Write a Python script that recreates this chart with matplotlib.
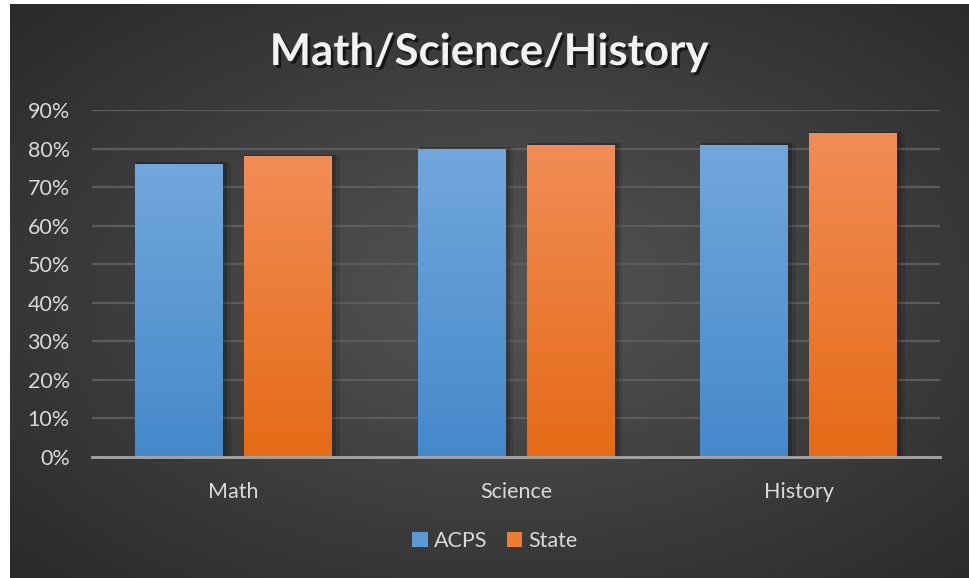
import numpy as np
import matplotlib
matplotlib.use("Agg")
import matplotlib.pyplot as plt
import matplotlib.patheffects as pe
from matplotlib.ticker import PercentFormatter
from matplotlib.patches import Rectangle

categories = ["Math", "Science", "History"]
acps = [0.76, 0.80, 0.81]
state = [0.78, 0.81, 0.84]
series_names = ["ACPS", "State"]
yticks = [0, 0.1, 0.2, 0.3, 0.4, 0.5, 0.6, 0.7, 0.8, 0.9]

plt.rcParams['font.family'] = ['Lato', 'DejaVu Sans']

W, H = 969, 578
fig = plt.figure(figsize=(W / 100, H / 100), dpi=100, facecolor="white")

# background radial gradient
bg = fig.add_axes([10 / W, 0, 1 - 10 / W, 1 - 4 / H])
bg.set_axis_off()
yy, xx = np.mgrid[0:1:300j, 0:1:500j]
r = np.sqrt(((xx - 0.52) / 0.75) ** 2 + ((yy - 0.5) / 0.75) ** 2)
r = np.clip(r / 0.95, 0, 1)
c0 = np.array([0x55, 0x55, 0x55]) / 255
c1 = np.array([0x2a, 0x2a, 0x2a]) / 255
img = c0[None, None, :] * (1 - r[..., None]) + c1[None, None, :] * r[..., None]
bg.imshow(img, aspect="auto", extent=[0, 1, 0, 1], origin="lower")
bg.set_xlim(0, 1)
bg.set_ylim(0, 1)

ax = fig.add_axes([92 / W, 1 - 457 / H, (940 - 92) / W, (457 - 110) / H])
ax.patch.set_alpha(0)
ax.set_xlim(-0.5, len(categories) - 0.5)
ax.set_ylim(0, 0.9)

width = 0.31
offset = 0.193
x = np.arange(len(categories))


def grad_bars(xpos, vals, top_c, bot_c):
    grad = np.linspace(0, 1, 256)[:, None]
    tc = np.array(matplotlib.colors.to_rgb(top_c))
    bc = np.array(matplotlib.colors.to_rgb(bot_c))
    for xi, v in zip(xpos, vals):
        # shadow
        for k, a in [(0.012, 0.18), (0.022, 0.10)]:
            ax.add_patch(Rectangle((xi - width / 2 + k * 0.3, 0), width + k, v + 0.004,
                                   facecolor="black", alpha=a, edgecolor="none", zorder=2))
        bar = ax.bar(xi, v, width, color="none", zorder=3)[0]
        cols = bc[None, :] * (1 - grad) + tc[None, :] * grad
        im = ax.imshow(cols[:, None, :], aspect="auto", origin="lower",
                       extent=[xi - width / 2, xi + width / 2, 0, v], zorder=3)
        im.set_clip_path(bar)


grad_bars(x - offset, acps, "#72a7dc", "#4589cb")
grad_bars(x + offset, state, "#f28c56", "#e56b16")
ax.set_xlim(-0.5, len(categories) - 0.5)
ax.set_ylim(0, 0.9)
ax.set_aspect("auto")

ax.set_yticks(yticks)
ax.yaxis.set_major_formatter(PercentFormatter(1.0, decimals=0))
ax.set_xticks(x)
ax.set_xticklabels(categories)
ax.grid(axis="y", color="#5c5c5c", linewidth=1.6, zorder=0)
ax.set_axisbelow(True)
for s in ["top", "right", "left"]:
    ax.spines[s].set_visible(False)
ax.spines["bottom"].set_color("#a6a6a6")
ax.spines["bottom"].set_linewidth(2)
ax.spines["bottom"].set_zorder(4)
ax.tick_params(axis="both", length=0, colors="#d9d9d9", labelsize=15.5)
ax.tick_params(axis="y", pad=16)
ax.tick_params(axis="x", pad=18)

# title
fig.text(489 / W, 1 - 52 / H, "Math/Science/History", ha="center", va="center",
         fontsize=31.5, fontweight="bold", color="#f2f2f2",
         path_effects=[pe.withSimplePatchShadow(offset=(2, -2), shadow_rgbFace="black", alpha=0.6)])

# legend
handles = [Rectangle((0, 0), 1, 1, facecolor="#5b9bd5"), Rectangle((0, 0), 1, 1, facecolor="#ed7d31")]
leg = fig.legend(handles, series_names, loc="center", bbox_to_anchor=(495 / W, 1 - 541 / H),
                 ncol=2, frameon=False, fontsize=15.5, handlelength=0.7, handleheight=0.7,
                 handletextpad=0.3, columnspacing=0.9)
for t in leg.get_texts():
    t.set_color("#d9d9d9")

fig.savefig("out.png", dpi=100, facecolor="white")
